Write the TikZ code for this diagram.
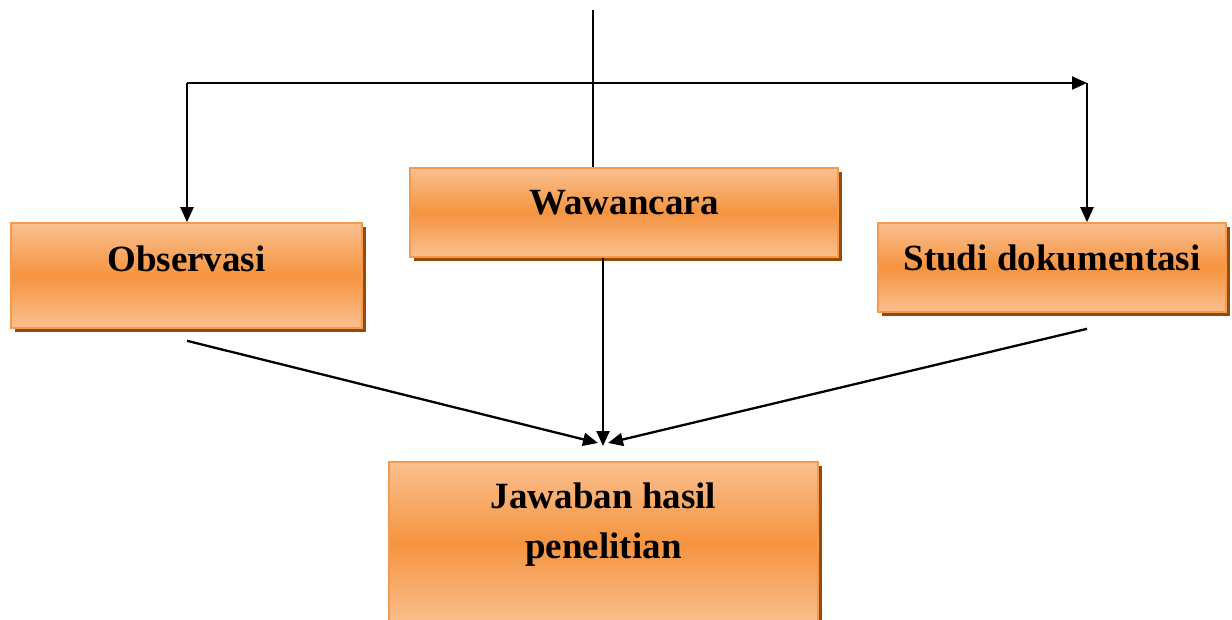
\documentclass[tikz,border=0pt]{standalone}
\usepackage{fontspec}
\setmainfont{Liberation Serif}
\usetikzlibrary{arrows.meta,shadows,calc}
\definecolor{olight}{HTML}{FAC08F}
\definecolor{omid}{HTML}{F59440}
\definecolor{oborder}{HTML}{F5994C}
\definecolor{oshadow}{HTML}{9A4A07}
\tikzset{
  box/.style={draw=oborder, line width=1.6pt, top color=olight, bottom color=olight, middle color=omid,
    drop shadow={shadow xshift=4pt, shadow yshift=-4pt, opacity=1, fill=oshadow},
    font=\fontsize{37}{50}\selectfont\bfseries, inner sep=0pt},
  arr/.style={line width=2.3pt, -{Triangle[length=15pt,width=13pt]}},
  ln/.style={line width=2.3pt}
}
\begin{document}
\begin{tikzpicture}[x=1pt,y=-1pt]
\clip (0,0) rectangle (1232,619);
\fill[white] (0,0) rectangle (1232,619);
\node[box, minimum width=351pt, minimum height=105pt, text height=25pt, text depth=34pt] (obs) at (186.5,275.5) {Observasi};
\node[box, minimum width=428pt, minimum height=89pt, text height=25pt, text depth=22pt] (waw) at (624,212.5) {Wawancara};
\node[box, minimum width=348pt, minimum height=89pt, text height=25pt, text depth=19pt] (stu) at (1052,267.5) {Studi dokumentasi};
\node[box, minimum width=429pt, minimum height=163pt, align=center, text height=75pt, text depth=46pt] (jaw) at (603.5,543.5) {Jawaban hasil\\penelitian};
\coordinate (top) at (593,10);
\coordinate (hl) at (187,83);
\coordinate (hr) at (1087,83);
\coordinate (jtip) at (603,446);
\coordinate (jl) at (598,443);
\coordinate (jr) at (608,443);
\draw[ln] (top) -- (top |- waw.north);
\draw[arr] (hl) -- (hr);
\draw[arr] (hl) -- (hl |- obs.north);
\draw[arr] (hr) -- (hr |- stu.north);
\draw[arr] (waw.south -| jtip) -- (jtip);
\draw[arr] ($(obs.south)+(0.5,12)$) -- (jl);
\draw[arr] ($(stu.south)+(35,16)$) -- (jr);
\end{tikzpicture}
\end{document}
